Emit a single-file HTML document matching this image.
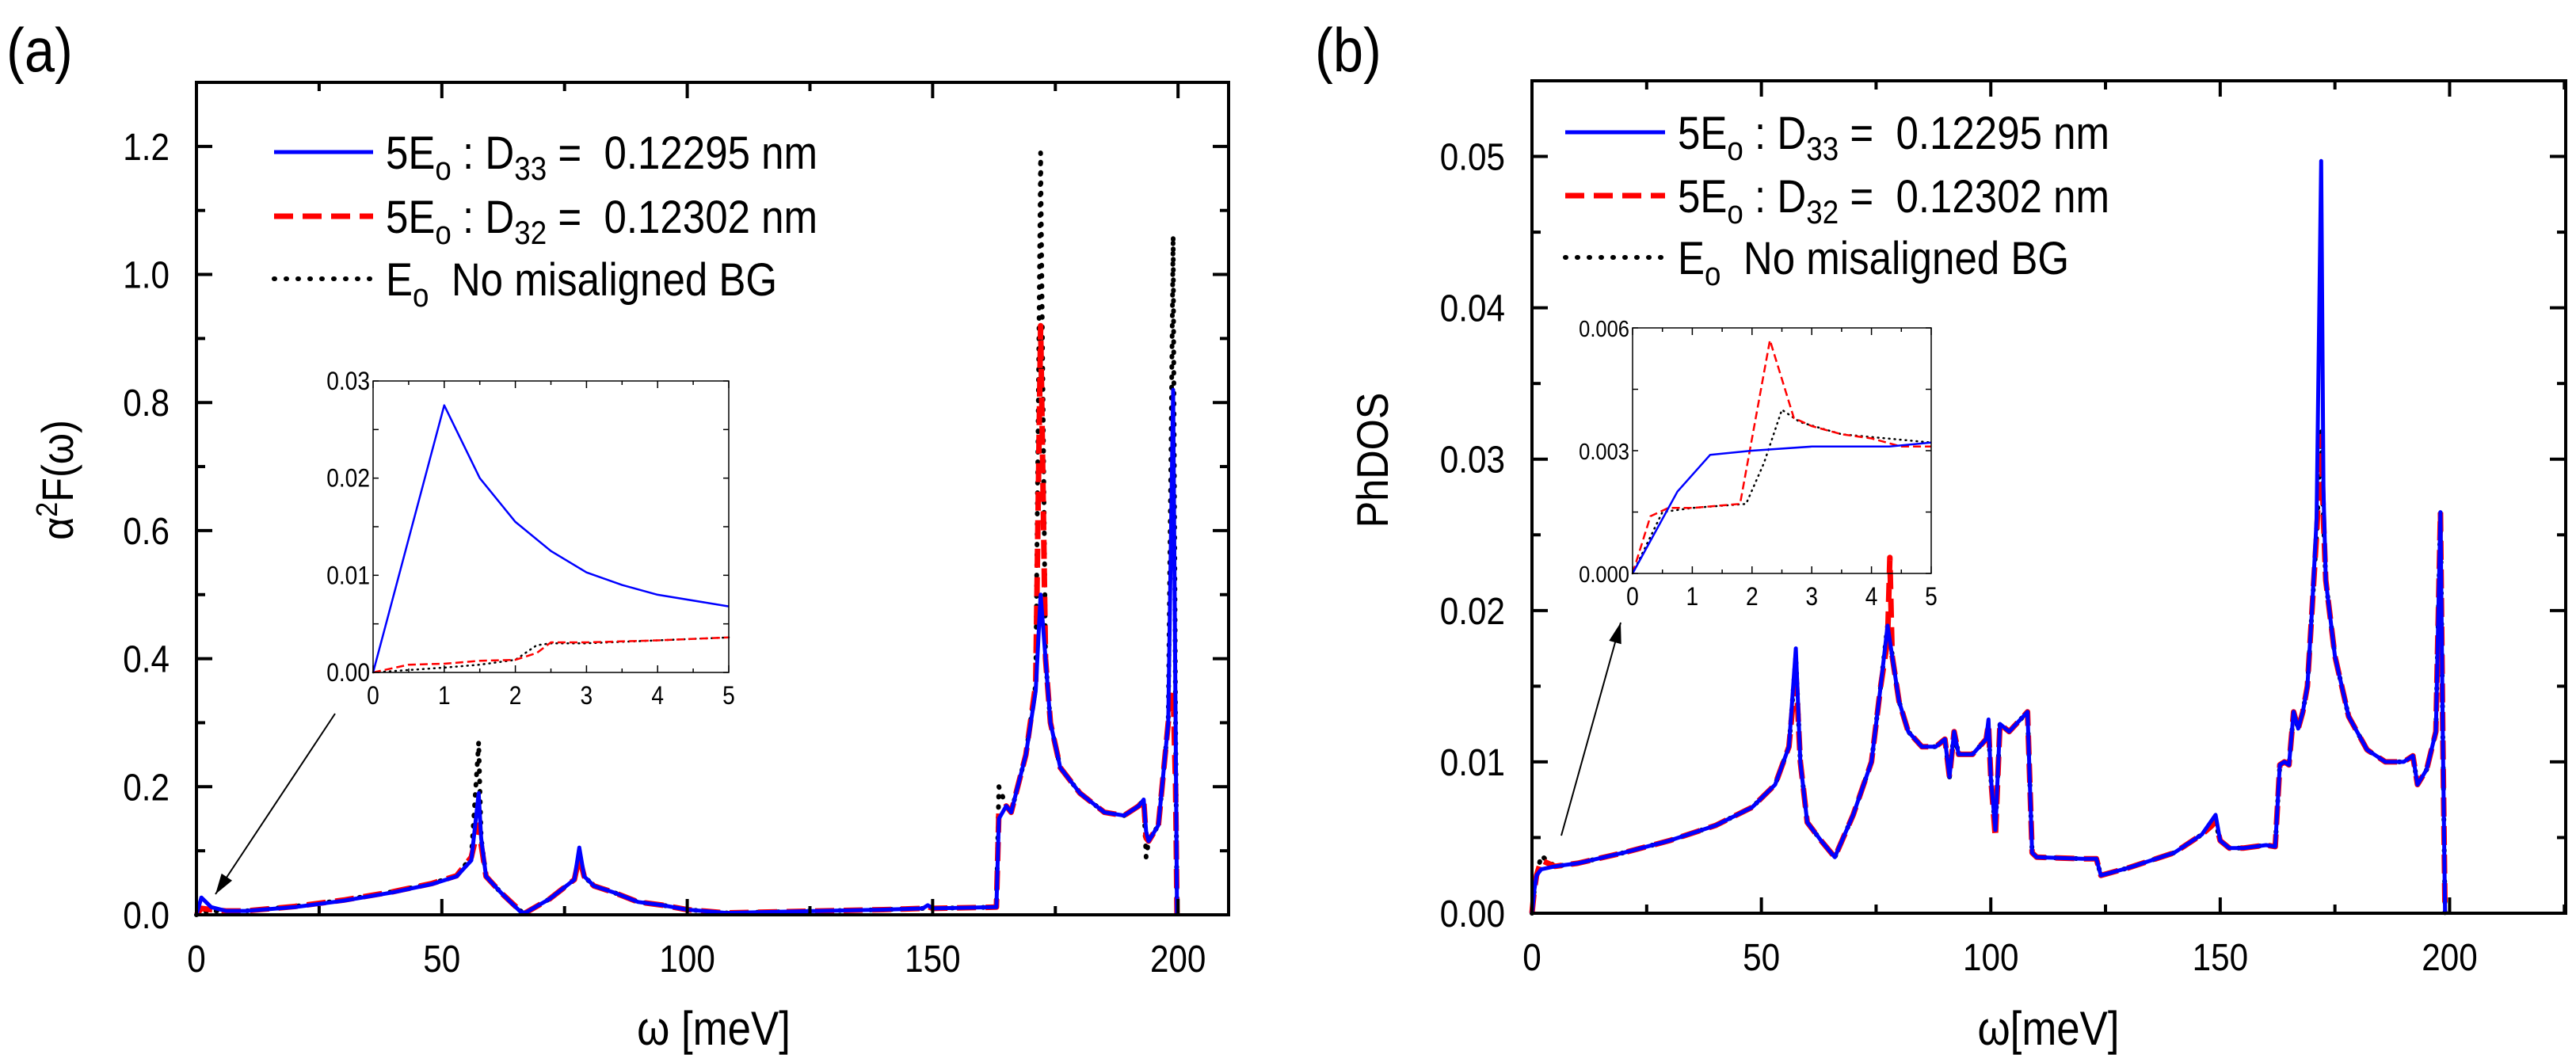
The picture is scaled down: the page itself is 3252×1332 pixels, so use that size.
<!DOCTYPE html>
<html><head><meta charset="utf-8"><style>
html,body{margin:0;padding:0;background:#fff}
svg{display:block}
text{font-family:"Liberation Sans",sans-serif;fill:#000}
</style></head><body>
<svg id="fig" width="3252" height="1332" viewBox="0 0 3252 1332" xmlns="http://www.w3.org/2000/svg">
<g id="root"></g>
</svg>
<script>
// ---- Panel (a) data ----
const aX = [0,1,3,6,10,20,30,40,48,53,56,57.5,58,59,62,66,67,72,77,78,79,81,85,90,95,100,108,120,140,148,149,150,163,163.5,165,166,167,169,171,172,173,174,176,180,185,189,192,193,193.5,194,196,198,199,199.5,199.8];
const aBlue = [0,0.027,0.012,0.006,0.006,0.012,0.022,0.035,0.048,0.06,0.085,0.19,0.12,0.06,0.035,0.005,0.003,0.025,0.055,0.105,0.06,0.045,0.035,0.02,0.015,0.008,0.003,0.005,0.008,0.01,0.015,0.01,0.012,0.15,0.17,0.16,0.19,0.25,0.35,0.5,0.4,0.3,0.23,0.19,0.16,0.155,0.17,0.18,0.13,0.115,0.14,0.3,0.82,0.3,0];
const aRed = [0,0.01,0.008,0.006,0.006,0.013,0.023,0.036,0.049,0.061,0.09,0.14,0.11,0.06,0.035,0.006,0.003,0.025,0.055,0.09,0.06,0.045,0.035,0.02,0.015,0.008,0.003,0.005,0.008,0.01,0.013,0.01,0.012,0.16,0.17,0.16,0.19,0.25,0.36,0.92,0.4,0.3,0.23,0.19,0.16,0.155,0.17,0.18,0.12,0.115,0.14,0.3,0.35,0.2,0];
const aBlack = [0,0.005,0.006,0.006,0.006,0.013,0.023,0.036,0.049,0.061,0.09,0.27,0.12,0.06,0.035,0.006,0.003,0.025,0.055,0.09,0.06,0.045,0.035,0.02,0.015,0.008,0.003,0.005,0.008,0.01,0.013,0.01,0.012,0.2,0.17,0.16,0.19,0.25,0.36,1.19,0.4,0.3,0.23,0.19,0.16,0.155,0.17,0.18,0.09,0.115,0.14,0.3,1.06,0.3,0];
const aXTicks = [0,50,100,150,200];
const aYTicks = [0.0,0.2,0.4,0.6,0.8,1.0,1.2];
const aYLabels = ["0.0","0.2","0.4","0.6","0.8","1.0","1.2"];
// inset (a)
const aiBX = [0,1,1.5,2,2.5,3,3.5,4,5];
const aiBlue = [0,0.0275,0.02,0.0155,0.0125,0.0103,0.009,0.008,0.0068];
const aiRX = [0,0.5,1,1.5,2,2.3,2.5,3,4,5];
const aiRed = [0,0.0008,0.0009,0.0012,0.0013,0.002,0.0031,0.0031,0.0033,0.0036];
const aiKX = [0,1,1.5,2,2.3,2.5,3,4,5];
const aiBlack = [0,0.0005,0.0008,0.0013,0.0028,0.003,0.003,0.0033,0.0036];
const aiYTicks = [0,0.01,0.02,0.03];
const aiYLabels = ["0.00","0.01","0.02","0.03"];
// ---- Panel (b) data ----
const bX = [0,0.5,1,2,5,10,20,30,40,48,53,56,57.5,58.5,60,63,66,70,74,76,77.5,78,78.5,80,82,85,88,90,91,92,93,96,99,99.5,100,101,102,104,108,109,110,120,123,124,130,140,146,149,150,152,155,160,162,163,164,165,166,167,168,169,170,171,172,172.5,173,175,178,182,186,190,192,193,195,197,198,198.5,199];
const bBlue = [0,0.0015,0.0025,0.0029,0.0031,0.0033,0.004,0.0048,0.0058,0.007,0.0085,0.011,0.0175,0.01,0.006,0.0048,0.0037,0.0065,0.01,0.015,0.019,0.018,0.017,0.014,0.012,0.011,0.011,0.0115,0.009,0.012,0.0105,0.0105,0.0115,0.0128,0.009,0.0055,0.0125,0.012,0.0133,0.004,0.0037,0.0036,0.0036,0.0025,0.003,0.004,0.0052,0.0065,0.0048,0.0043,0.0043,0.0045,0.0044,0.0098,0.01,0.0098,0.0133,0.0122,0.0133,0.015,0.02,0.026,0.0497,0.028,0.022,0.017,0.013,0.0108,0.01,0.01,0.0104,0.0085,0.0095,0.012,0.0265,0.012,0];
const bRed = [0,0.0015,0.0025,0.0035,0.0031,0.0033,0.004,0.0048,0.0058,0.007,0.0085,0.011,0.016,0.01,0.006,0.0048,0.0037,0.0065,0.01,0.015,0.018,0.0235,0.017,0.014,0.012,0.011,0.011,0.0115,0.009,0.012,0.0105,0.0105,0.0115,0.0125,0.009,0.005,0.0125,0.012,0.0133,0.004,0.0037,0.0036,0.0036,0.0025,0.003,0.004,0.0052,0.006,0.0048,0.0043,0.0043,0.0045,0.0044,0.0098,0.01,0.0098,0.0133,0.0122,0.0133,0.015,0.02,0.025,0.0315,0.026,0.022,0.017,0.013,0.0108,0.01,0.01,0.0104,0.0085,0.0095,0.012,0.0265,0.012,0];
const bBlack = [0,0.0015,0.0025,0.0038,0.0031,0.0033,0.004,0.0048,0.0058,0.007,0.0085,0.011,0.017,0.01,0.006,0.0048,0.0037,0.0065,0.01,0.015,0.019,0.019,0.017,0.014,0.012,0.011,0.011,0.0115,0.009,0.012,0.0105,0.0105,0.0115,0.0125,0.009,0.0055,0.0125,0.012,0.0133,0.004,0.0037,0.0036,0.0036,0.0025,0.003,0.004,0.0052,0.006,0.0048,0.0043,0.0043,0.0045,0.0044,0.0098,0.01,0.0098,0.0133,0.0122,0.0133,0.015,0.02,0.025,0.032,0.026,0.022,0.017,0.013,0.0108,0.01,0.01,0.0104,0.0085,0.0095,0.012,0.0265,0.012,0];
const bXTicks = [0,50,100,150,200];
const bYTicks = [0,0.01,0.02,0.03,0.04,0.05];
const bYLabels = ["0.00","0.01","0.02","0.03","0.04","0.05"];
// inset (b)
const biBX = [0,0.75,1.3,2,3,4.3,5];
const biBlue = [0,0.002,0.0029,0.003,0.0031,0.0031,0.0032];
const biRX = [0,0.3,0.6,1,1.8,2.3,2.7,3,3.5,4,4.5,5];
const biRed = [0,0.0014,0.0016,0.0016,0.0017,0.0057,0.0038,0.0036,0.0034,0.0033,0.0031,0.0031];
const biKX = [0,0.5,1,1.9,2.2,2.5,2.8,3.5,5];
const biBlack = [0,0.0015,0.0016,0.0017,0.0027,0.004,0.0037,0.0034,0.0032];
const biYTicks = [0,0.003,0.006];
const biYLabels = ["0.000","0.003","0.006"];
const insetXTicks = [0,1,2,3,4,5];

const NS="http://www.w3.org/2000/svg";
const root=document.getElementById('root');
const SQ=0.88;
function mk(tag,attrs,parent){const e=document.createElementNS(NS,tag);for(const k in attrs)e.setAttribute(k,attrs[k]);(parent||root).appendChild(e);return e;}
function scale(d0,d1,r0,r1){return v=>r0+(v-d0)/(d1-d0)*(r1-r0);}
function pathD(xs,ys,sx,sy){return xs.map((x,i)=>(i?'L':'M')+sx(x).toFixed(1)+','+sy(ys[i]).toFixed(1)).join(' ');}
function squeeze(x){return `translate(${x},0) scale(${SQ},1) translate(${-x},0)`;}

function frame(g,L,T,R,B,sw){
  const r=mk('rect',{x:L,y:T,width:R-L,height:B-T,fill:'none',stroke:'#000','stroke-width':sw},g);
  
  
}
function series(g,xs,ys,sx,sy,color,w,dash,name,round){
  const p=mk('path',{d:pathD(xs,ys,sx,sy),fill:'none',stroke:color,'stroke-width':w,'stroke-linejoin':'round','stroke-dasharray':dash||'none','stroke-linecap':round?'round':'butt'},g);
  
  
}
function text(g,x,y,s,size,anchor,name){
  const t=mk('text',{x:x,y:y,'font-size':size,'text-anchor':anchor||'start',transform:squeeze(x)},g);
  t.textContent=s;
  
  
  return t;
}

function mainPanel(o){
  const g=mk('g',{});
  
  
  const sx=scale(o.xd[0],o.xd[1],o.L,o.R), sy=scale(o.yd[0],o.yd[1],o.B,o.T);
  series(g,o.x,o.black,sx,sy,'#000',6,'1 12',o.pre+'series-black',true);
  series(g,o.x,o.red,sx,sy,'#ff0000',7,'24 12',o.pre+'series-red');
  series(g,o.x,o.blue,sx,sy,'#0000ff',5,null,o.pre+'series-blue');
  frame(g,o.L,o.T,o.R,o.B,4);
  const xt=mk('g',{stroke:'#000','stroke-width':4},g);
  
  
  for(let v=o.xd[0];v<=o.xd[1];v+=25){
    const major=(v%50===0), len=major?20:11, X=sx(v);
    mk('line',{x1:X,y1:o.B,x2:X,y2:o.B-len},xt);
    mk('line',{x1:X,y1:o.T,x2:X,y2:o.T+len},xt);
  }
  o.xTicks.forEach(v=>{text(g,sx(v),o.B+72,String(v),48,'middle',o.pre+'x-tick-label');});
  const yt=mk('g',{stroke:'#000','stroke-width':4},g);
  
  
  const ystep=o.yTicks[1]-o.yTicks[0];
  for(let i=0;i<o.yTicks.length*2+1;i++){
    const v=o.yd[0]+i*ystep/2; if(v>o.yd[1]+1e-9)break;
    const Y=sy(v), len=(i%2===0)?20:11;
    mk('line',{x1:o.L,y1:Y,x2:o.L+len,y2:Y},yt);
    mk('line',{x1:o.R,y1:Y,x2:o.R-len,y2:Y},yt);
  }
  o.yTicks.forEach((v,i)=>{text(g,o.L-34,sy(v)+17,o.yLabels[i],48,'end',o.pre+'y-tick-label');});
}

function inset(o){
  const g=mk('g',{});
  
  
  const sx=scale(0,5,o.L,o.R), sy=scale(o.yd[0],o.yd[1],o.B,o.T);
  series(g,o.kx,o.black,sx,sy,'#000',2.5,'1 6',o.pre+'series-black',true);
  series(g,o.rx,o.red,sx,sy,'#ff0000',2.5,'10 5',o.pre+'series-red');
  series(g,o.bx,o.blue,sx,sy,'#0000ff',2.5,null,o.pre+'series-blue');
  frame(g,o.L,o.T,o.R,o.B,1.5);
  const tk=mk('g',{stroke:'#000','stroke-width':1.5},g);
  
  
  for(let v=0;v<=5;v+=0.5){const X=sx(v),len=(v%1===0)?9:5;
    mk('line',{x1:X,y1:o.B,x2:X,y2:o.B-len},tk);mk('line',{x1:X,y1:o.T,x2:X,y2:o.T+len},tk);}
  const st=o.yTicks[1]-o.yTicks[0];
  for(let v=o.yd[0];v<=o.yd[1]+1e-9;v+=st/2){const Y=sy(v);
    mk('line',{x1:o.L,y1:Y,x2:o.L+7,y2:Y},tk);mk('line',{x1:o.R,y1:Y,x2:o.R-7,y2:Y},tk);}
  insetXTicks.forEach(v=>text(g,sx(v),o.B+40,String(v),32,'middle',o.pre+'x-tick-label'));
  o.yTicks.forEach((v,i)=>text(g,o.L-4,sy(v)+11,o.yLabels[i],o.yfs,'end',o.pre+'y-tick-label'));
}

function legend(pre,lx,lx2,ys,tx,size){
  const g=mk('g',{});
  
  
  const styles=[['#0000ff',5,null],['#ff0000',7,'24 12'],['#000',6,'1 14']];
  const labels=[['5E','o',' : D','33',' =\u00a0 0.12295 nm'],['5E','o',' : D','32',' =\u00a0 0.12302 nm'],['E','o','\u00a0 No misaligned BG','','']];
  ys.forEach((y,i)=>{
    const l=mk('line',{x1:lx,y1:y,x2:lx2,y2:y,stroke:styles[i][0],'stroke-width':styles[i][1],'stroke-dasharray':styles[i][2]||'none','stroke-linecap':i===2?'round':'butt'},g);
    
    
    const t=mk('text',{x:tx,y:y+21,'font-size':size,transform:squeeze(tx)},g);
    
    
    const p=labels[i];
    const a=mk('tspan',{},t);a.textContent=p[0];
    const b=mk('tspan',{dy:14,'font-size':size*0.72},t);b.textContent=p[1];
    const c=mk('tspan',{dy:-14},t);c.textContent=p[2];
    if(p[3]){const d=mk('tspan',{dy:14,'font-size':size*0.72},t);d.textContent=p[3];
      const e=mk('tspan',{dy:-14},t);e.textContent=p[4];}
  });
}

// Panel a
mainPanel({name:'panel-a',pre:'a-',L:248,R:1551,T:104,B:1155,xd:[0,210.3],yd:[0,1.3],x:aX,blue:aBlue,red:aRed,black:aBlack,xTicks:aXTicks,yTicks:aYTicks,yLabels:aYLabels});
inset({name:'inset-a',pre:'ia-',L:471,R:920,T:481,B:849,yd:[0,0.03],bx:aiBX,blue:aiBlue,rx:aiRX,red:aiRed,kx:aiKX,black:aiBlack,yTicks:aiYTicks,yLabels:aiYLabels,yfs:32});
legend('a-',346,471,[192,273,352],487,58);
// Panel b
mainPanel({name:'panel-b',pre:'b-',L:1934,R:3239,T:102,B:1153,xd:[0,225.3],yd:[0,0.055],x:bX,blue:bBlue,red:bRed,black:bBlack,xTicks:bXTicks,yTicks:bYTicks,yLabels:bYLabels});
inset({name:'inset-b',pre:'ib-',L:2061,R:2438,T:414,B:724,yd:[0,0.006],bx:biBX,blue:biBlue,rx:biRX,red:biRed,kx:biKX,black:biBlack,yTicks:biYTicks,yLabels:biYLabels,yfs:29});
legend('b-',1976,2102,[167,247,325],2118,58);

function arrow(x1,y1,x2,y2,name){
  const g=mk('g',{});
  
  
  mk('line',{x1:x1,y1:y1,x2:x2,y2:y2,stroke:'#000','stroke-width':2},g);
  const a=Math.atan2(y2-y1,x2-x1),L=26,W=8;
  const bx=x2-L*Math.cos(a),by=y2-L*Math.sin(a);
  mk('polygon',{points:`${x2},${y2} ${bx+W*Math.sin(a)},${by-W*Math.cos(a)} ${bx-W*Math.sin(a)},${by+W*Math.cos(a)}`,fill:'#000'},g);
}
arrow(423,901,272,1129,'a-inset-arrow');
arrow(1971,1055,2046,786,'b-inset-arrow');

text(root,8,90,'(a)',78,'start','panel-a-label');
text(root,1660,90,'(b)',78,'start','panel-b-label');
text(root,901,1319,'ω [meV]',60,'middle','a-x-axis-title');
text(root,2586,1319,'ω[meV]',60,'middle','b-x-axis-title');
const ya=mk('text',{x:0,y:0,'font-size':56,'text-anchor':'middle',transform:'translate(92,606) rotate(-90) scale(0.9,1)'});


const t1=mk('tspan',{},ya);t1.textContent='α';
const t2=mk('tspan',{dy:-20,'font-size':38},ya);t2.textContent='2';
const t3=mk('tspan',{dy:20},ya);t3.textContent='F(ω)';
const yb=mk('text',{x:0,y:0,'font-size':56,'text-anchor':'middle',transform:'translate(1752,581) rotate(-90) scale(0.9,1)'});


yb.textContent='PhDOS';
</script>
</body></html>
